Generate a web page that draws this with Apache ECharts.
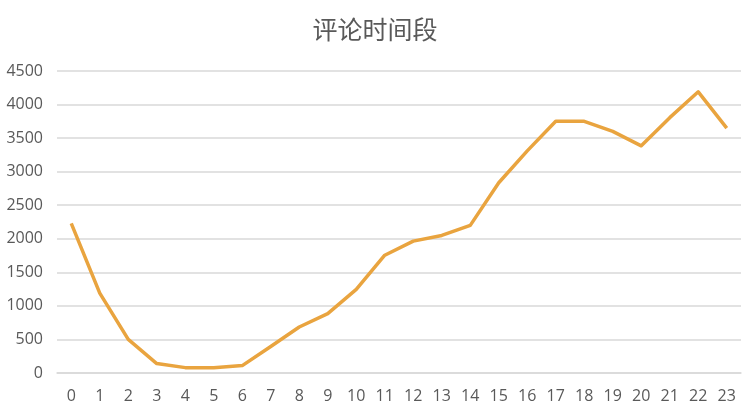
<!DOCTYPE html>
<html>
<head>
<meta charset="utf-8">
<script src="https://cdn.jsdelivr.net/npm/echarts@6/dist/echarts.min.js"></script>
<style>
html, body { margin: 0; padding: 0; background: #fff; }
#chart { width: 750px; height: 416px; }
</style>
</head>
<body>
<div id="chart"></div>
<script>
var hours = ['0','1','2','3','4','5','6','7','8','9','10','11','12','13','14','15','16','17','18','19','20','21','22','23'];
var comments = [2230, 1190, 500, 140, 80, 80, 110, 395, 685, 885, 1245, 1755, 1965, 2050, 2200, 2835, 3310, 3750, 3750, 3600, 3385, 3805, 4190, 3650];

var myChart = echarts.init(document.getElementById('chart'));
var option = {
	animation: false,
	title: {
		text: '评论时间段',
		left: 'center',
		top: 12,
		textStyle: {
			fontFamily: 'Noto Sans CJK SC',
			fontSize: 25,
			fontWeight: 'normal',
			color: '#595959'
		}
	},
	grid: {
		left: 57,
		right: 9,
		top: 71,
		bottom: 43
	},
	xAxis: {
		type: 'category',
		data: hours,
		axisLine: { lineStyle: { color: '#d9d9d9', width: 1.5 } },
		axisTick: { show: false },
		axisLabel: {
			color: '#595959',
			fontFamily: 'Open Sans',
			fontSize: 16,
			margin: 15
		}
	},
	yAxis: {
		type: 'value',
		min: 0,
		max: 4500,
		interval: 500,
		axisLine: { show: false },
		axisTick: { show: false },
		axisLabel: {
			color: '#595959',
			fontFamily: 'Open Sans',
			fontSize: 16,
			margin: 14,
			formatter: function (value) {
				return String(value);
			}
		},
		splitLine: { lineStyle: { color: '#d9d9d9', width: 1.5 } }
	},
	series: [{
		name: '评论数',
		type: 'line',
		data: comments,
		symbol: 'none',
		lineStyle: { color: '#e9a43f', width: 3.5, join: 'round' }
	}]
};
myChart.setOption(option);
</script>
</body>
</html>
